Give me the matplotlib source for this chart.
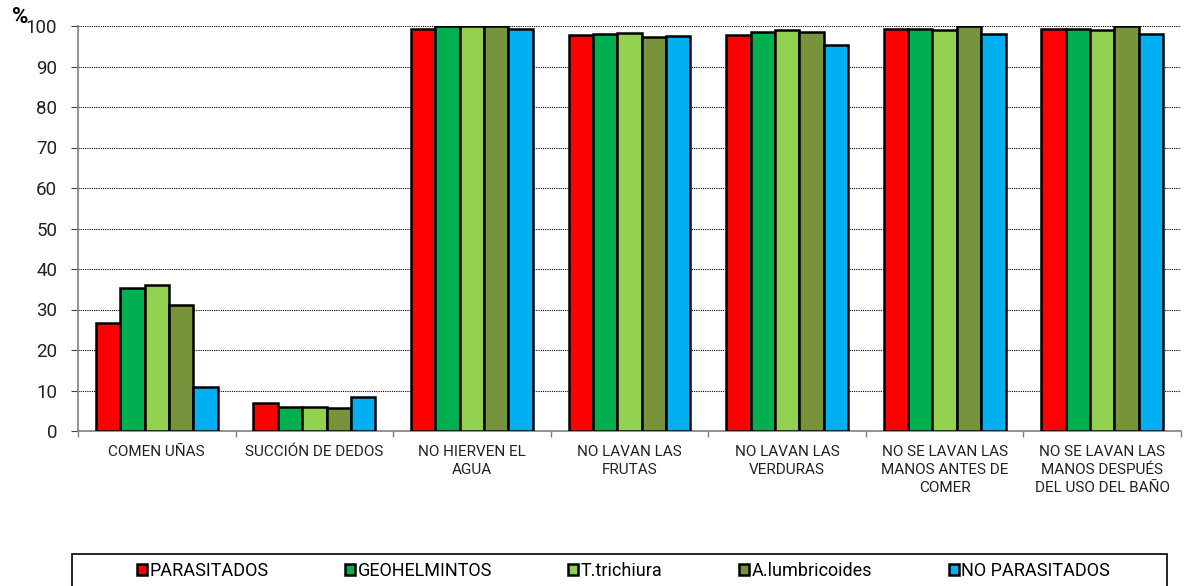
import matplotlib
matplotlib.use("Agg")
import matplotlib.pyplot as plt
from matplotlib.patches import Rectangle
import numpy as np

plt.rcParams['font.family'] = ['Roboto', 'DejaVu Sans']

categorias = ['COMEN UÑAS', 'SUCCIÓN DE DEDOS', 'NO HIERVEN EL\nAGUA',
              'NO LAVAN LAS\nFRUTAS', 'NO LAVAN LAS\nVERDURAS',
              'NO SE LAVAN LAS\nMANOS ANTES DE\nCOMER',
              'NO SE LAVAN LAS\nMANOS DESPUÉS\nDEL USO DEL BAÑO']

grupos = ['PARASITADOS', 'GEOHELMINTOS', 'T.trichiura', 'A.lumbricoides', 'NO PARASITADOS']
colores = ['#FF0000', '#00B050', '#92D050', '#77933C', '#00B0F0']

parasitados    = [26.6, 6.8, 99.3, 97.9, 97.9, 99.3, 99.3]
geohelmintos   = [35.3, 6.0, 100.0, 98.0, 98.6, 99.2, 99.2]
t_trichiura    = [36.0, 6.0, 100.0, 98.3, 99.1, 99.0, 99.0]
a_lumbricoides = [31.0, 5.6, 100.0, 97.2, 98.5, 100.0, 100.0]
no_parasitados = [10.9, 8.5, 99.3, 97.6, 95.2, 98.0, 98.0]

series = [parasitados, geohelmintos, t_trichiura, a_lumbricoides, no_parasitados]

fig = plt.figure(figsize=(11.84, 5.86), dpi=100)
ax = fig.add_axes([78 / 1184, 1 - 431 / 586, 1103 / 1184, 405 / 586])

x = np.arange(len(categorias)) + 0.5
ancho = 0.1545
for i, (vals, col, nom) in enumerate(zip(series, colores, grupos)):
    ax.bar(x + (i - 2) * ancho, vals, ancho, color=col, edgecolor='black',
           linewidth=1.8, label=nom, zorder=3)

ax.set_xlim(0, len(categorias))
ax.set_ylim(0, 100)
ax.set_yticks(np.arange(0, 101, 10))
ax.yaxis.grid(True, linestyle=(0, (1, 1)), color='black', linewidth=0.8, zorder=0)

ax.set_xticks(np.arange(len(categorias) + 1))
ax.set_xticklabels([])
ax.set_xticks(x, minor=True)
ax.set_xticklabels(categorias, minor=True, fontsize=11, linespacing=1.38, color='#222222')
ax.tick_params(axis='x', which='minor', length=0, pad=10)
ax.tick_params(axis='x', which='major', length=4, color='#808080', width=1)
ax.tick_params(axis='y', length=5, pad=10, labelsize=13.5, color='#444444',
               labelcolor='#222222')

for lado in ['top', 'right']:
    ax.spines[lado].set_visible(False)
for lado in ['left', 'bottom']:
    ax.spines[lado].set_color('#808080')
    ax.spines[lado].set_linewidth(1.2)

fig.text(20 / 1184, 1 - 17 / 586, '%', fontsize=16, fontweight='bold',
         ha='center', va='center')

# caja de la leyenda
fig.patches.append(Rectangle((72 / 1184, -0.02), 1095 / 1184, 0.02 + 32 / 586,
                             transform=fig.transFigure, fill=False,
                             edgecolor='black', linewidth=1.2))
handles, labels = ax.get_legend_handles_labels()
fig.legend(handles, labels, loc='center', ncol=5, mode='expand', frameon=False,
           bbox_to_anchor=(137 / 1184, 1 - 571 / 586 - 0.02, 973 / 1184, 0.04),
           fontsize=13, handlelength=0.55, handleheight=0.55, handletextpad=0.15,
           borderpad=0, borderaxespad=0)

fig.savefig('out.png', dpi=100)
